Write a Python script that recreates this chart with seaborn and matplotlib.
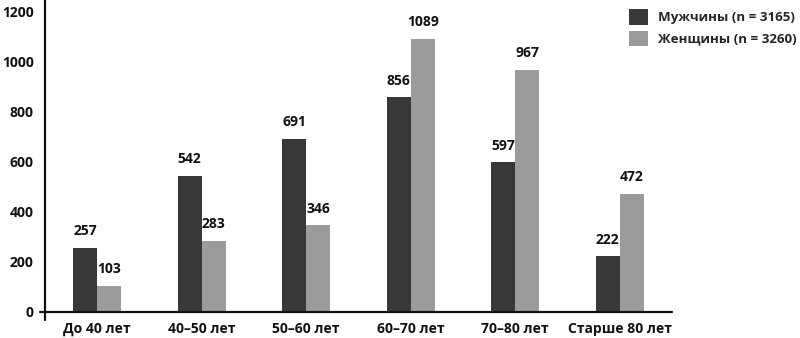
import matplotlib
matplotlib.use("Agg")
import matplotlib.pyplot as plt
import seaborn as sns
import pandas as pd

categories = ["До 40 лет", "40–50 лет", "50–60 лет", "60–70 лет", "70–80 лет", "Старше 80 лет"]
men = [257, 542, 691, 856, 597, 222]
women = [103, 283, 346, 1089, 967, 472]
series_names = ["Мужчины (n = 3165)", "Женщины (n = 3260)"]
yticks = [0, 200, 400, 600, 800, 1000, 1200]

sns.set_style("white")
plt.rcParams["font.family"] = ["Open Sans", "DejaVu Sans"]

df = pd.DataFrame({
    "cat": categories * 2,
    "val": men + women,
    "sex": [series_names[0]] * len(categories) + [series_names[1]] * len(categories),
})

fig = plt.figure(figsize=(8, 3.38), dpi=100)
ax = fig.add_axes([0.056, 0.077, 0.784, 0.923])

sns.barplot(data=df, x="cat", y="val", hue="sex", order=categories,
            hue_order=series_names, palette=["#383838", "#9b9b9b"],
            width=0.46, gap=0, saturation=1, edgecolor="none", linewidth=0,
            errorbar=None, ax=ax)

for cont in ax.containers:
    ax.bar_label(cont, fmt="%d", padding=7, fontsize=10, fontweight="bold", color="#111111")

ax.set_xlim(-0.5, 5.5)
ax.set_ylim(0, 1245)
ax.set_yticks(yticks)
ax.set_yticklabels([str(t) for t in yticks])
ax.set_xlabel("")
ax.set_ylabel("")
for s in ax.spines.values():
    s.set_visible(False)
ax.plot([-0.008, 1.0], [0, 0], transform=ax.transAxes, color="#111111", lw=1.6, clip_on=False)
ax.plot([0, 0], [-0.025, 1.0], transform=ax.transAxes, color="#111111", lw=1.6, clip_on=False)
ax.tick_params(axis="both", length=0, labelsize=10, colors="#111111")
ax.tick_params(axis="y", pad=8)
ax.tick_params(axis="x", pad=7)
for lab in ax.get_xticklabels() + ax.get_yticklabels():
    lab.set_fontweight("bold")
for lab in ax.get_yticklabels():
    lab.set_verticalalignment("center_baseline")

handles, labels = ax.get_legend_handles_labels()
ax.legend(handles, labels, loc="upper left", bbox_to_anchor=(0.775, 1.0),
          bbox_transform=fig.transFigure, frameon=False,
          prop={"weight": "bold", "size": 9.6}, handlelength=1.4, handleheight=1.4,
          labelspacing=0.45, handletextpad=0.75, borderaxespad=0.3)

fig.savefig("out.png", dpi=100, facecolor="white")
